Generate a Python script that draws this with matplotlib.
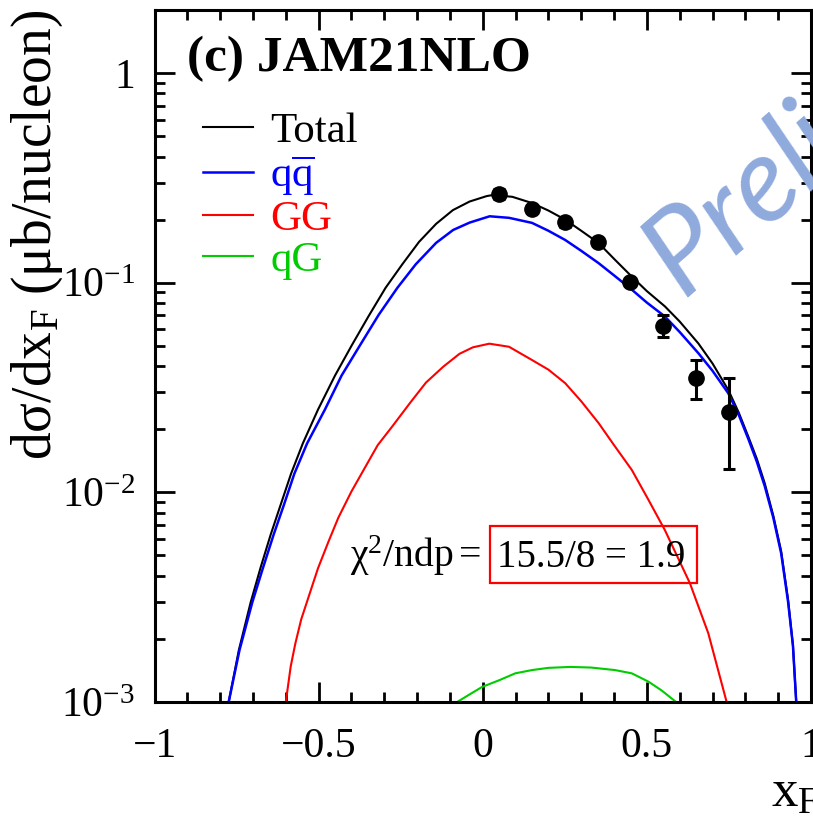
#!/usr/bin/env python3
"""
Drell-Yan dsigma/dxF compared with JAM21NLO (total and subprocess contributions)
"""

import math

import matplotlib

matplotlib.use("Agg")
import matplotlib.pyplot as plt
from matplotlib.patches import Rectangle
from matplotlib.ticker import FixedLocator, FuncFormatter, LogLocator, MultipleLocator, NullFormatter

# ---- curves ----
total_x = [-0.774, -0.743, -0.707, -0.676, -0.646, -0.615, -0.584, -0.548, -0.502, -0.450,
           -0.399, -0.348, -0.296, -0.245, -0.194, -0.142, -0.091, -0.040, 0.012, 0.030,
           0.090, 0.150, 0.200, 0.251, 0.300, 0.353, 0.400, 0.454, 0.500, 0.555, 0.600,
           0.657, 0.700, 0.748, 0.780, 0.809, 0.835, 0.859, 0.885, 0.909, 0.930, 0.945, 0.955]
total_y = [0.00100, 0.00177, 0.00299, 0.00442, 0.00629, 0.00879, 0.01227, 0.01714, 0.0248, 0.0361,
           0.0503, 0.0692, 0.0946, 0.1225, 0.1567, 0.191, 0.222, 0.244, 0.259, 0.262,
           0.257, 0.240, 0.221, 0.200, 0.177, 0.1546, 0.130, 0.107, 0.0912, 0.0771, 0.0653,
           0.0513, 0.0412, 0.0308, 0.0240, 0.01845, 0.01445, 0.01106, 0.00776, 0.00525, 0.00309,
           0.00186, 0.00100]

qqbar_x = [-0.774, -0.741, -0.702, -0.670, -0.637, -0.605, -0.574, -0.535, -0.481, -0.430,
           -0.374, -0.317, -0.260, -0.204, -0.142, -0.090, -0.040, 0.021, 0.080, 0.150,
           0.200, 0.251, 0.300, 0.353, 0.400, 0.454, 0.500, 0.555, 0.600, 0.657, 0.700,
           0.748, 0.780, 0.809, 0.835, 0.859, 0.885, 0.909, 0.930, 0.945, 0.955]
qqbar_y = [0.00100, 0.00177, 0.00299, 0.00434, 0.00629, 0.00879, 0.01227, 0.01714, 0.0248, 0.0361,
           0.0503, 0.0703, 0.0946, 0.1225, 0.155, 0.1786, 0.1936, 0.2075, 0.204, 0.193,
           0.177, 0.160, 0.142, 0.124, 0.1084, 0.0927, 0.0804, 0.0690, 0.0582, 0.0461, 0.0380,
           0.0297, 0.0234, 0.0180, 0.01400, 0.01072, 0.00759, 0.00513, 0.00302, 0.00186, 0.00100]

gg_x = [-0.600, -0.585, -0.571, -0.553, -0.502, -0.470, -0.440, -0.400, -0.358, -0.320,
        -0.276, -0.220, -0.173, -0.120, -0.071, -0.030, 0.020, 0.080, 0.150, 0.200,
        0.251, 0.300, 0.353, 0.400, 0.454, 0.505, 0.555, 0.631, 0.687, 0.743]
gg_y = [0.00100, 0.00148, 0.00190, 0.00248, 0.00434, 0.00582, 0.00757, 0.0101, 0.0132, 0.0168,
        0.0206, 0.0269, 0.0334, 0.0398, 0.0458, 0.0492, 0.0512, 0.0495, 0.0428, 0.0385,
        0.0332, 0.0272, 0.0214, 0.0168, 0.0128, 0.0092, 0.0066, 0.00369, 0.00213, 0.00100]

qg_x = [-0.078, -0.043, -0.002, 0.050, 0.099, 0.150, 0.200, 0.267, 0.330, 0.403, 0.454,
        0.505, 0.545, 0.589]
qg_y = [0.00100, 0.00108, 0.00118, 0.00127, 0.00137, 0.00142, 0.001455, 0.00147, 0.00146,
        0.00142, 0.00137, 0.00125, 0.001135, 0.00100]

# ---- data points ----
data_x = [0.05, 0.15, 0.25, 0.35, 0.45, 0.55, 0.65, 0.75]
data_y = [0.265, 0.225, 0.194, 0.156, 0.1003, 0.0624, 0.0353, 0.0242]
data_lo = [0.250, 0.214, 0.185, 0.149, 0.0960, 0.0551, 0.0279, 0.0129]
data_hi = [0.280, 0.236, 0.203, 0.163, 0.1046, 0.0703, 0.0428, 0.0353]

labels = ["Total", r"$\mathrm{q\overline{q}}$", "GG", "qG"]
colors = ["#000000", "#0000ff", "#ff0000", "#00cc00"]

plt.rcParams["font.family"] = ["Liberation Serif", "DejaVu Serif"]
plt.rcParams["mathtext.fontset"] = "custom"
plt.rcParams["mathtext.rm"] = "Liberation Serif"
plt.rcParams["mathtext.it"] = "Liberation Serif:italic"
plt.rcParams["mathtext.bf"] = "Liberation Serif:bold"

fig = plt.figure(figsize=(8.13, 8.21), dpi=100)
ax = fig.add_axes([154.5 / 813, 119 / 821, 656.5 / 813, 692 / 821])

curves = [(total_x, total_y), (qqbar_x, qqbar_y), (gg_x, gg_y), (qg_x, qg_y)]
widths = [1.5, 1.8, 1.5, 1.5]
for (cx, cy), lab, col, lw in zip(curves, labels, colors, widths):
    ax.plot(cx, cy, color=col, linewidth=lw, label=lab)

yerr = [[y - lo for y, lo in zip(data_y, data_lo)], [hi - y for y, hi in zip(data_y, data_hi)]]
ax.errorbar(data_x, data_y, yerr=yerr, fmt="o", color="black", markersize=11,
            elinewidth=2.2, capsize=4.5, capthick=2.2, zorder=5)

ax.set_yscale("log")
ax.set_xlim(-1, 1)
ax.set_ylim(1e-3, 2.0)

ax.xaxis.set_major_locator(MultipleLocator(0.5))
ax.xaxis.set_minor_locator(MultipleLocator(0.1))
ax.xaxis.set_major_formatter(FuncFormatter(lambda v, p: f"{v:g}".replace("-", "\u2212")))
ax.yaxis.set_major_locator(FixedLocator([1e-3, 1e-2, 1e-1, 1]))
ax.yaxis.set_minor_locator(LogLocator(base=10, subs=range(2, 10)))
ax.yaxis.set_minor_formatter(NullFormatter())


def ylab(v, p):
    if abs(v - 1) < 1e-9:
        return "1"
    return r"$\mathrm{10^{%d}}$" % int(round(math.log10(v)))


ax.yaxis.set_major_formatter(FuncFormatter(ylab))

for side in ax.spines.values():
    side.set_linewidth(2.2)
ax.tick_params(which="both", direction="in", top=True, right=True, width=2.0)
ax.tick_params(which="major", length=14.4, labelsize=30)
ax.tick_params(which="minor", length=7.2)
ax.tick_params(axis="x", which="major", pad=18)
ax.tick_params(axis="y", which="major", pad=14)

ax.set_ylabel(r"$\mathrm{d\sigma/dx_{F}\ (\mu b/nucleon)}$", fontsize=40, loc="top")
ax.yaxis.set_label_coords(-0.137, 1.0)
ax.set_xlabel(r"$\mathrm{x_{F}}$", fontsize=38, loc="right")
ax.xaxis.set_label_coords(1.012, -0.098)

ax.text(0.05, 0.962, "(c) JAM21NLO", transform=ax.transAxes, fontsize=37,
        fontweight="bold", ha="left", va="top")

leg = ax.legend(loc="upper left", bbox_to_anchor=(0.074, 0.853), frameon=False,
                fontsize=31, handlelength=1.16, handletextpad=0.4, labelspacing=0.05,
                borderpad=0, borderaxespad=0)
for txt, col in zip(leg.get_texts(), colors):
    txt.set_color(col)

ax.text(0.298, 0.195, r"$\mathrm{\chi^{2}/ndp} = $", transform=ax.transAxes,
        fontsize=28.5, ha="left", va="baseline")
ax.text(0.522, 0.195, "15.5/8 = 1.9", transform=ax.transAxes,
        fontsize=28, ha="left", va="baseline")
ax.add_patch(Rectangle((0.511, 0.172), 0.315, 0.082, transform=ax.transAxes,
                       fill=False, edgecolor="red", linewidth=1.6))

fig.text(682 / 813, 1 - 298 / 821, "Preliminary", fontsize=86, family="Lato",
         style="italic", color="#8FAADC", rotation=41, rotation_mode="anchor",
         ha="left", va="baseline", zorder=10)

fig.savefig("out.png", dpi=100)
